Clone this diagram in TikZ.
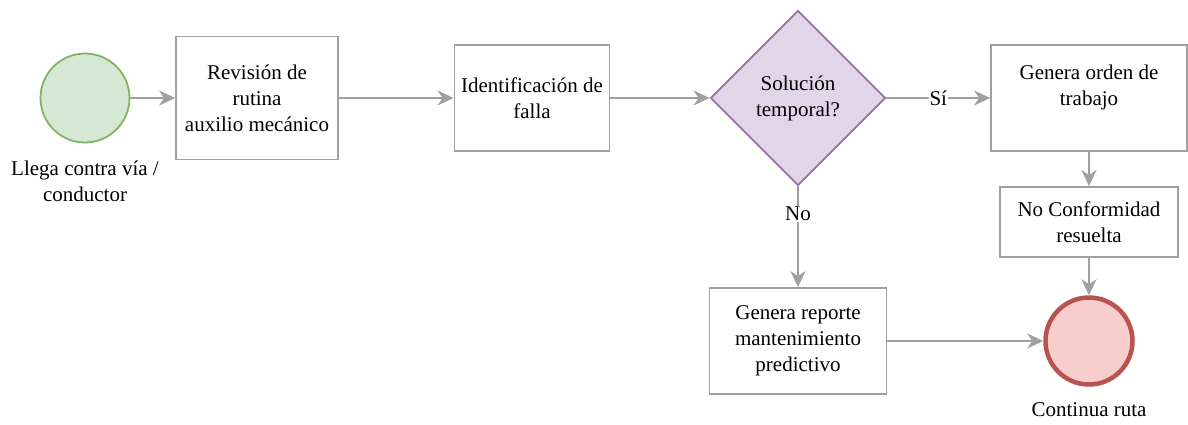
\documentclass[tikz,border=0pt]{standalone}
\usepackage{fontspec}
\setmainfont{Liberation Serif}
\usetikzlibrary{shapes.geometric, arrows.meta, positioning}
\definecolor{lineGray}{RGB}{160,160,160}
\definecolor{startFill}{RGB}{213,232,212}
\definecolor{startLine}{RGB}{130,179,102}
\definecolor{endFill}{RGB}{248,206,204}
\definecolor{endLine}{RGB}{184,84,80}
\definecolor{decFill}{RGB}{225,213,231}
\definecolor{decLine}{RGB}{150,115,166}

\begin{document}
\begin{tikzpicture}[x=1pt, y=-1pt, font=\rmfamily\fontsize{21}{26}\selectfont,
    box/.style={draw=lineGray, line width=1.8pt, fill=white, rectangle, align=center, inner sep=0pt},
    decision/.style={draw=decLine, line width=1.8pt, fill=decFill, diamond, align=center, inner sep=0pt, minimum width=175pt, minimum height=175pt},
    startev/.style={draw=startLine, line width=1.8pt, fill=startFill, circle, minimum size=89pt, inner sep=0pt},
    endev/.style={draw=endLine, line width=4.5pt, fill=endFill, circle, minimum size=87pt, inner sep=0pt},
    flow/.style={draw=lineGray, line width=1.8pt, -{Stealth[length=16pt, width=15pt, inset=5pt]}},
    lbl/.style={align=center, inner sep=0pt}]
    \useasboundingbox (0,0) rectangle (1188,424);
    % Define the blocks for each component
    \node (start) [startev] at (85,98) {};
    \node (startlbl) [lbl] at (85,181) {Llega contra vía /\\conductor};
    \node (revision) [box, minimum width=162pt, minimum height=123pt] at (257,98) {Revisión de\\rutina\\auxilio mecánico};
    \node (falla) [box, minimum width=155pt, minimum height=106pt] at (532,98) {Identificación de\\falla};
    \node (solucion) [decision] at (798,98) {Solución\\temporal?};
    \node (orden) [box, minimum width=196pt, minimum height=106pt] at (1089,98) {Genera orden de\\trabajo\\~};
    \node (noconf) [box, minimum width=178pt, minimum height=70pt] at (1089,222) {No Conformidad\\resuelta};
    \node (reporte) [box, minimum width=177pt, minimum height=106pt] at (798,341) {Genera reporte\\mantenimiento\\predictivo};
    \node (fin) [endev] at (1089,341) {};
    \node (finlbl) [lbl] at (1089,410) {Continua ruta};
    % Draw arrows to show the flow
    \draw[flow] (start) -- (revision);
    \draw[flow] (revision) -- (falla);
    \draw[flow] (falla) -- (solucion);
    \draw[flow] (solucion) -- (orden) node[pos=0.5, fill=white, inner sep=1pt] {Sí};
    \draw[flow] (solucion) -- (reporte) node[pos=0.27, fill=white, inner sep=1pt] {No};
    \draw[flow] (orden) -- (noconf);
    \draw[flow] (noconf) -- (fin);
    \draw[flow] (reporte) -- (fin);
\end{tikzpicture}
\end{document}
